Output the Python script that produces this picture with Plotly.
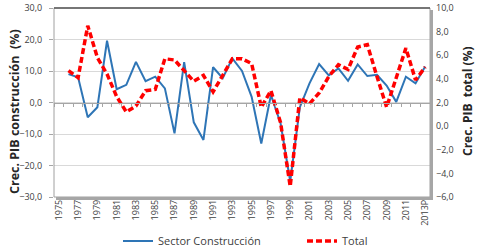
import plotly.graph_objects as go

years = [str(y) for y in range(1975, 2013)] + ["2013P"]

construccion = [None, 9.0, 8.0, -4.7, -1.5, 19.6, 4.2, 5.6, 12.9, 6.8, 8.2, 4.5, -9.8,
                12.8, -6.3, -11.9, 11.2, 7.7, 14.0, 10.0, 1.8, -13.0, 2.4, -6.6, -25.0,
                -1.5, 6.1, 12.2, 8.6, 10.8, 6.9, 12.1, 8.4, 8.8, 5.4, 0.2, 8.2, 6.1, 11.4]

total = [None, 4.7, 4.1, 8.5, 5.8, 4.4, 2.5, 1.2, 1.7, 3.0, 3.1, 5.7, 5.6, 4.7, 3.8,
         4.3, 2.9, 4.3, 5.7, 5.7, 5.3, 1.6, 3.0, 0.3, -5.1, 2.4, 1.9, 2.8, 4.2, 5.2,
         4.8, 6.7, 6.9, 4.2, 1.6, 4.1, 6.6, 3.9, 5.0]

tick_labels = years[::2]

FONT = "Open Sans"
TXT = "#404040"

W, H = 479, 251
L, T = 54, 8
R = W - 430
B = H - 197
pw, ph = W - L - R, H - T - B


def px(xp):
    return (xp - L) / pw


def py(yp):
    return ((H - B) - yp) / ph


fig = go.Figure()
fig.add_trace(go.Scatter(x=years, y=construccion, name="Sector Construcción",
                         mode="lines", line=dict(color="#2E75B6", width=2),
                         xaxis="x", yaxis="y"))
fig.add_trace(go.Scatter(x=years, y=total, name="Total", mode="lines",
                         line=dict(color="#FF0000", width=3.5, dash="6px,3px"),
                         xaxis="x2", yaxis="y2"))

fig.update_layout(
    width=W, height=H,
    margin=dict(l=L, r=R, t=T, b=B, autoexpand=False),
    paper_bgcolor="white", plot_bgcolor="white",
    separators=",.",
    font=dict(family=FONT, size=9, color=TXT),
    showlegend=True,
    legend=dict(orientation="h", x=px(118), y=py(241),
                xanchor="left", yanchor="middle",
                font=dict(size=11, color=TXT), entrywidth=139, entrywidthmode="pixels",
                bgcolor="rgba(0,0,0,0)", itemwidth=30),
    xaxis=dict(type="category", range=[-0.5, 38.5], tickmode="array",
               tickvals=tick_labels, ticktext=tick_labels, tickangle=-90,
               showgrid=False, showline=False, ticks="", zeroline=False,
               automargin=False, tickfont=dict(size=9, color=TXT)),
    xaxis2=dict(type="category", range=[-0.5, 38.5], overlaying="x", anchor="free",
                position=0.5, showticklabels=False, showgrid=False, showline=True,
                linecolor="#A6A6A6", linewidth=1, ticks="outside", ticklen=3,
                tickcolor="#A6A6A6", tickson="boundaries", dtick=1, zeroline=False),
    yaxis=dict(range=[-30, 30], dtick=10, tickformat=".1f", showgrid=True,
               gridcolor="#D9D9D9", gridwidth=1, zeroline=False, ticks="outside",
               ticklen=4, tickcolor="#A6A6A6", ticklabelstandoff=5, automargin=False,
               tickfont=dict(size=9, color=TXT)),
    yaxis2=dict(range=[-6, 10], dtick=2, tickformat=".1f", overlaying="y",
                side="right", anchor="x2", showgrid=False, zeroline=False,
                ticklabelstandoff=5, automargin=False,
                tickfont=dict(size=9, color=TXT)),
)

# axis titles
fig.add_annotation(text="<b>Crec. PIB construcción  (%)</b>", textangle=-90,
                   xref="paper", yref="paper", x=px(14), y=py(112),
                   xanchor="center", yanchor="middle",
                   showarrow=False, font=dict(size=12.5, color="#262626"))
fig.add_annotation(text="<b>Crec. PIB  total (%)</b>", textangle=-90,
                   xref="paper", yref="paper", x=px(467), y=py(101),
                   xanchor="center", yanchor="middle",
                   showarrow=False, font=dict(size=12, color="#262626"))

# frame and shadow
fig.add_shape(type="rect", xref="paper", yref="paper", x0=0, y0=0, x1=1, y1=1,
              line=dict(color="#A0A0A0", width=1), layer="above")
fig.add_shape(type="line", xref="paper", yref="paper", x0=0, y0=1, x1=1, y1=1,
              line=dict(color="#595959", width=1.5), layer="above")
fig.add_shape(type="rect", xref="paper", yref="paper", x0=1, x1=1 + 3 / pw,
              y0=-3 / ph, y1=1 - 2 / ph, fillcolor="#A6A6A6", line=dict(width=0),
              layer="above")
fig.add_shape(type="rect", xref="paper", yref="paper", x0=2 / pw, x1=1 + 3 / pw,
              y0=-3 / ph, y1=0, fillcolor="#A6A6A6", line=dict(width=0),
              layer="above")

fig.write_html("out.html", config={"displayModeBar": False},
               post_script="document.body.style.margin='0';")
